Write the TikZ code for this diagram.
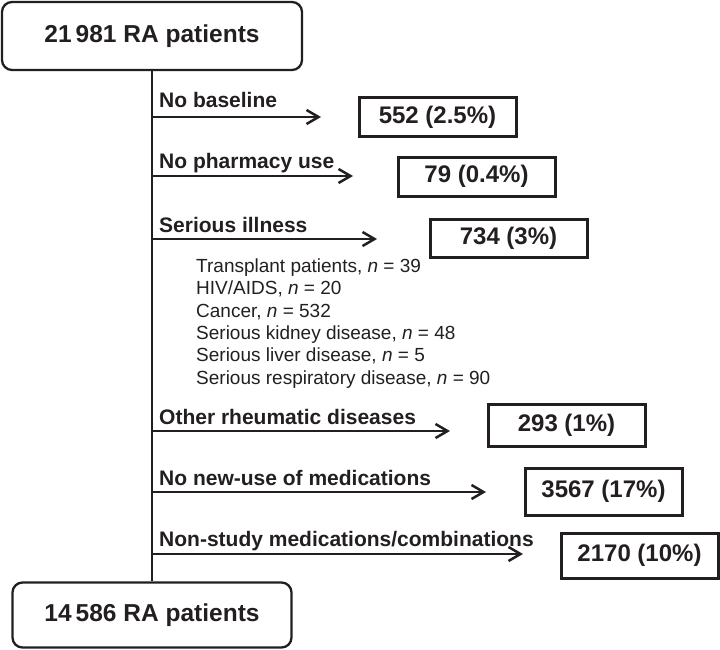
\documentclass[tikz,border=0pt]{standalone}
\usepackage{fontspec}
\setmainfont{Liberation Sans}
\usetikzlibrary{arrows.meta}
\definecolor{ink}{RGB}{35,31,32}
\begin{document}
\begin{tikzpicture}[x=1pt,y=-1pt,
  mainbox/.style={draw=ink, text=ink, line width=2.3pt, rounded corners=10pt,
    font=\fontsize{24.5}{28}\selectfont\bfseries, inner sep=0pt},
  countbox/.style={draw=ink, text=ink, line width=3pt,
    font=\fontsize{24}{28}\selectfont\bfseries, minimum width=157pt, inner sep=0pt},
  lbl/.style={anchor=base west, font=\fontsize{21}{24}\selectfont\bfseries, inner sep=0pt, text=ink},
  sublbl/.style={anchor=base west, font=\fontsize{19}{22}\selectfont, inner sep=0pt, text=ink},
  arr/.style={draw=ink, line width=2.5pt, -{Straight Barb[length=12pt,width=14pt]}},
  trunk/.style={draw=ink, line width=2.6pt}]
\useasboundingbox (0,0) rectangle (720,650);

% main boxes
\node[mainbox, minimum width=300pt, minimum height=68pt] (top) at (152,36) {21\,981 RA patients};
\node[mainbox, minimum width=279pt, minimum height=65pt] (bot) at (152,615) {14\,586 RA patients};
\draw[trunk] (top.south) -- (bot.north);

% count boxes
\node[countbox, minimum height=39pt] (b1) at (437.5,117.5) {552 (2.5\%)};
\node[countbox, minimum height=39pt] (b2) at (476.5,176.5) {79 (0.4\%)};
\node[countbox, minimum height=38pt] (b3) at (508.5,238) {734 (3\%)};
\node[countbox, minimum height=42pt] (b4) at (566.5,425) {293 (1\%)};
\node[countbox, minimum height=47pt] (b5) at (603.5,491.5) {3567 (17\%)};
\node[countbox, minimum height=45pt] (b6) at (639.5,555.5) {2170 (10\%)};

% branch points and arrow ends
\coordinate (s1) at (152,117); \coordinate (e1) at (321,117);
\coordinate (s2) at (152,176); \coordinate (e2) at (353,176);
\coordinate (s3) at (152,239); \coordinate (e3) at (377,239);
\coordinate (s4) at (152,431); \coordinate (e4) at (450,431);
\coordinate (s5) at (152,492); \coordinate (e5) at (486,492);
\coordinate (s6) at (152,554); \coordinate (e6) at (523,554);

\draw[arr] (s1) -- (e1);
\draw[arr] (s2) -- (e2);
\draw[arr] (s3) -- (e3);
\draw[arr] (s4) -- (e4);
\draw[arr] (s5) -- (e5);
\draw[arr] (s6) -- (e6);

% labels
\node[lbl] (l1) at (159,108) {No baseline};
\node[lbl] (l2) at (159,168) {No pharmacy use};
\node[lbl] (l3) at (159,232) {Serious illness};
\node[lbl] (l4) at (159,424) {Other rheumatic diseases};
\node[lbl] (l5) at (159,485) {No new-use of medications};
\node[lbl] (l6) at (159,546) {Non-study medications/combinations};

% sub list
\node[sublbl] (t1) at (196,272) {Transplant patients, \textit{n} = 39};
\node[sublbl] (t2) at (196,294.5) {HIV/AIDS, \textit{n} = 20};
\node[sublbl] (t3) at (196,317) {Cancer, \textit{n} = 532};
\node[sublbl] (t4) at (196,339) {Serious kidney disease, \textit{n} = 48};
\node[sublbl] (t5) at (196,361.5) {Serious liver disease, \textit{n} = 5};
\node[sublbl] (t6) at (196,384) {Serious respiratory disease, \textit{n} = 90};
\end{tikzpicture}
\end{document}
